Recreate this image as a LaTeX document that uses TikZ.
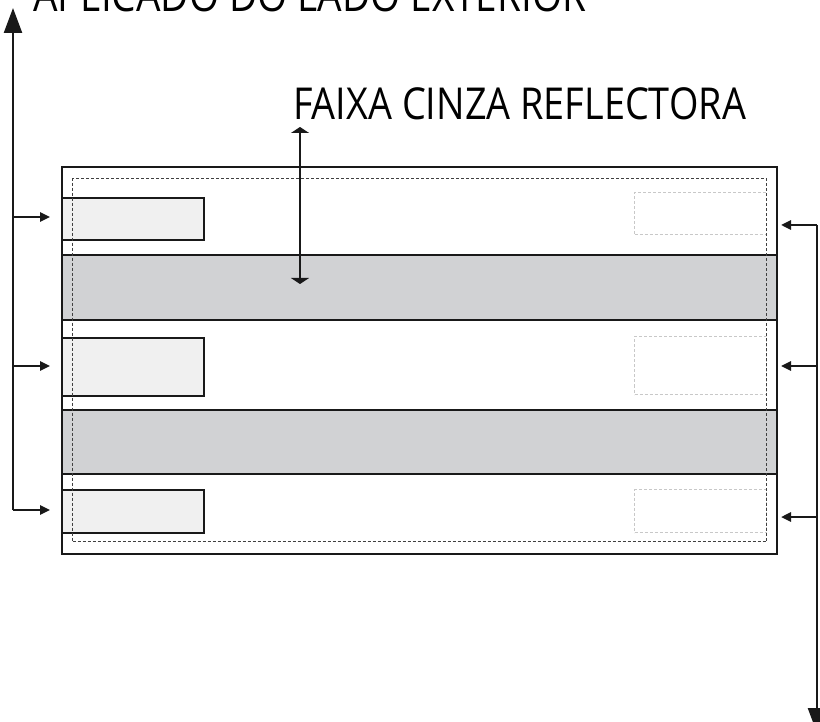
\documentclass[tikz,border=0pt]{standalone}
\usepackage{fontspec}
\setmainfont{Open Sans}[FakeStretch=0.86]
\usetikzlibrary{arrows.meta}
\definecolor{band}{HTML}{D1D2D4}
\definecolor{lightbox}{HTML}{F0F0F0}
\definecolor{ghost}{HTML}{C8C8C8}
\begin{document}
\begin{tikzpicture}[x=1pt,y=-1pt,
  frame/.style={draw=black!90,line width=1.6pt},
  bandbox/.style={draw=black!90,fill=band,line width=1.6pt},
  labelbox/.style={draw=black!90,fill=lightbox,line width=1.6pt},
  ghostbox/.style={draw=ghost,dash pattern=on 3pt off 2pt,line width=1pt},
  safe/.style={draw=black!75,dash pattern=on 3pt off 2pt,line width=1.2pt},
  lead/.style={draw=black!90,line width=2.4pt},
  small/.style={-{Triangle[length=10pt,width=9pt]}},
  big/.style={-{Triangle[length=25pt,width=18pt]}},
  lbl/.style={font=\fontsize{44}{44}\selectfont,inner sep=0pt,anchor=base west}]
\useasboundingbox (0,0) rectangle (820,722);
% outer frame
\node[frame,minimum width=715pt,minimum height=387pt,inner sep=0pt,anchor=north west] (outer) at (61,166) {};
% bands
\node[bandbox,minimum width=715pt,minimum height=65pt,inner sep=0pt,anchor=north west] (band1) at (61,254) {};
\node[bandbox,minimum width=715pt,minimum height=64pt,inner sep=0pt,anchor=north west] (band2) at (61,409) {};
% light label boxes
\node[labelbox,minimum width=142pt,minimum height=42pt,inner sep=0pt,anchor=north west] (lb1) at (61,197) {};
\node[labelbox,minimum width=142pt,minimum height=58pt,inner sep=0pt,anchor=north west] (lb2) at (61,337) {};
\node[labelbox,minimum width=142pt,minimum height=43pt,inner sep=0pt,anchor=north west] (lb3) at (61,489) {};
% ghost boxes
\node[ghostbox,minimum width=132pt,minimum height=42pt,inner sep=0pt,anchor=north west] (gb1) at (634,192) {};
\node[ghostbox,minimum width=132pt,minimum height=58pt,inner sep=0pt,anchor=north west] (gb2) at (634,336) {};
\node[ghostbox,minimum width=132pt,minimum height=43pt,inner sep=0pt,anchor=north west] (gb3) at (634,489) {};
% safe area dashed
\node[safe,minimum width=694pt,minimum height=363pt,inner sep=0pt,anchor=north west] (safe) at (72,178) {};
% texts
\node[lbl,font=\fontsize{45}{45}\selectfont] (ext) at (33,12) {APLICADO DO LADO EXTERIOR};
\node[lbl] (faixa) at (293,120) {FAIXA CINZA REFLECTORA};
% left bracket
\coordinate (lt) at (13,8);
\coordinate (lb) at (13,510);
\coordinate (la1) at (13,217);
\coordinate (la2) at (13,366);
\coordinate (la1e) at (50,217);
\coordinate (la2e) at (50,366);
\coordinate (la3e) at (50,510);
\draw[lead,big] (lb) -- (lt);
\draw[lead,small] (lb) -- (la3e);
\draw[lead,small] (la1) -- (la1e);
\draw[lead,small] (la2) -- (la2e);
% right bracket
\coordinate (rt) at (817,225);
\coordinate (rb) at (817,733);
\coordinate (ra2) at (817,366);
\coordinate (ra3) at (817,517);
\coordinate (ra1e) at (781,225);
\coordinate (ra2e) at (781,366);
\coordinate (ra3e) at (781,517);
\draw[lead,big] (rt) -- (rb);
\draw[lead,small] (rt) -- (ra1e);
\draw[lead,small] (ra2) -- (ra2e);
\draw[lead,small] (ra3) -- (ra3e);
% middle double arrow
\coordinate (mt) at (300,127);
\coordinate (mb) at (300,284);
\draw[lead,{Triangle[length=6pt,width=18pt]}-{Triangle[length=6pt,width=18pt]}] (mt) -- (mb);
\end{tikzpicture}
\end{document}
